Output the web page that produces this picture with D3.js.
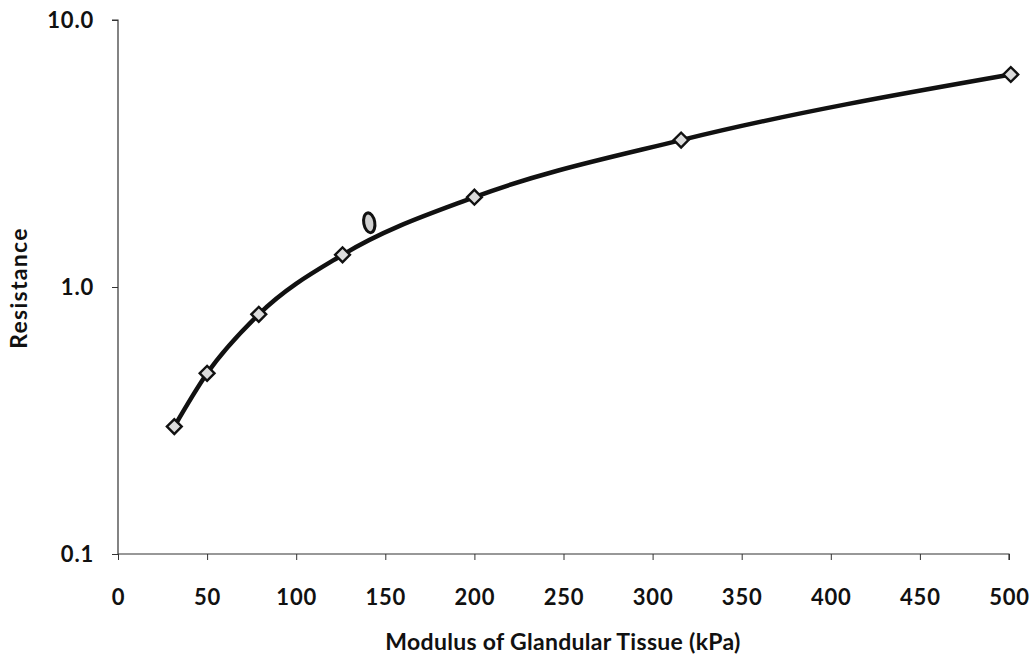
<!DOCTYPE html>
<html><head><meta charset="utf-8">
<script src="https://cdn.jsdelivr.net/npm/d3@7"></script>
<style>
html,body{margin:0;padding:0;background:#fff;}
text{font-family:Lato,"Open Sans",sans-serif;font-weight:bold;fill:#111;}
</style></head>
<body>
<svg id="chart" width="1032" height="666"></svg>
<script>
const modulus = [31.6, 50, 79, 126, 200, 316, 501];
const resistance = [0.30, 0.475, 0.79, 1.32, 2.17, 3.55, 6.25];
const extraPoint = [{x: 141, y: 1.74}];
const xTicks = [0, 50, 100, 150, 200, 250, 300, 350, 400, 450, 500];
const yTicks = [0.1, 1, 10];
const xTitle = "Modulus of Glandular Tissue (kPa)";
const yTitle = "Resistance";

const svg = d3.select("#chart");
const m = {left: 118, right: 1009, top: 20, bottom: 554};
const x = d3.scaleLinear().domain([0, 500]).range([m.left, m.right]);
const y = d3.scaleLog().domain([0.1, 10]).range([m.bottom, m.top]);

const tickFont = sel => sel.style("font-size", "22px").style("letter-spacing", "0.8px")
  .style("font-family", "Lato,'Open Sans',sans-serif").style("font-weight", "bold").attr("fill", "#111");

// axes
const xAxis = d3.axisBottom(x).tickValues(xTicks).tickSize(6).tickFormat(d3.format("d"));
const gx = svg.append("g").attr("transform", `translate(0,${m.bottom})`).call(xAxis);
gx.select(".domain").attr("stroke", "#333").attr("stroke-width", 1.2).attr("d", `M${m.left},0H${m.right}V6`);
gx.selectAll(".tick line").attr("stroke", "#333");
gx.selectAll(".tick text").attr("dy", "0").attr("y", 51).call(tickFont);

const yAxis = d3.axisLeft(y).tickValues(yTicks).tickSize(6).tickFormat(d3.format(".1f"));
const gy = svg.append("g").attr("transform", `translate(${m.left},0)`).call(yAxis);
gy.select(".domain").attr("stroke", "#333").attr("stroke-width", 1.2).attr("d", `M-6,${m.top}H0V${m.bottom}`);
gy.selectAll(".tick line").attr("stroke", "#333");
gy.selectAll(".tick text").attr("x", -24).attr("dy", "0.36em").call(tickFont);

// titles
svg.append("text").attr("x", 563).attr("y", 650).attr("text-anchor", "middle")
  .style("font-size", "23px").style("letter-spacing", "0.3px").text(xTitle);
svg.append("text").attr("transform", `translate(27,288) rotate(-90)`).attr("text-anchor", "middle")
  .style("font-size", "23px").style("letter-spacing", "1.3px").text(yTitle);

// curve
const pts = modulus.map((d, i) => ({x: d, y: resistance[i]}));
const line = d3.line().x(d => x(d.x)).y(d => y(d.y)).curve(d3.curveMonotoneX);
svg.append("path").datum(pts).attr("d", line).attr("fill", "none").attr("stroke", "#111")
  .attr("stroke-width", 4.5).attr("stroke-linecap", "round");

// markers
const sym = d3.symbol().type(d3.symbolSquare).size(110);
svg.selectAll(".mk").data(pts).join("path").attr("class", "mk")
  .attr("transform", d => `translate(${x(d.x)},${y(d.y)}) rotate(45)`)
  .attr("d", sym).attr("fill", "#dcdcdc").attr("stroke", "#111").attr("stroke-width", 2.4);

svg.selectAll(".ex").data(extraPoint).join("ellipse").attr("class", "ex")
  .attr("transform", d => `translate(${x(d.x)},${y(d.y)}) rotate(-10)`)
  .attr("rx", 5.5).attr("ry", 10)
  .attr("fill", "#d0d0d0").attr("stroke", "#111").attr("stroke-width", 3);
</script>
</body></html>
